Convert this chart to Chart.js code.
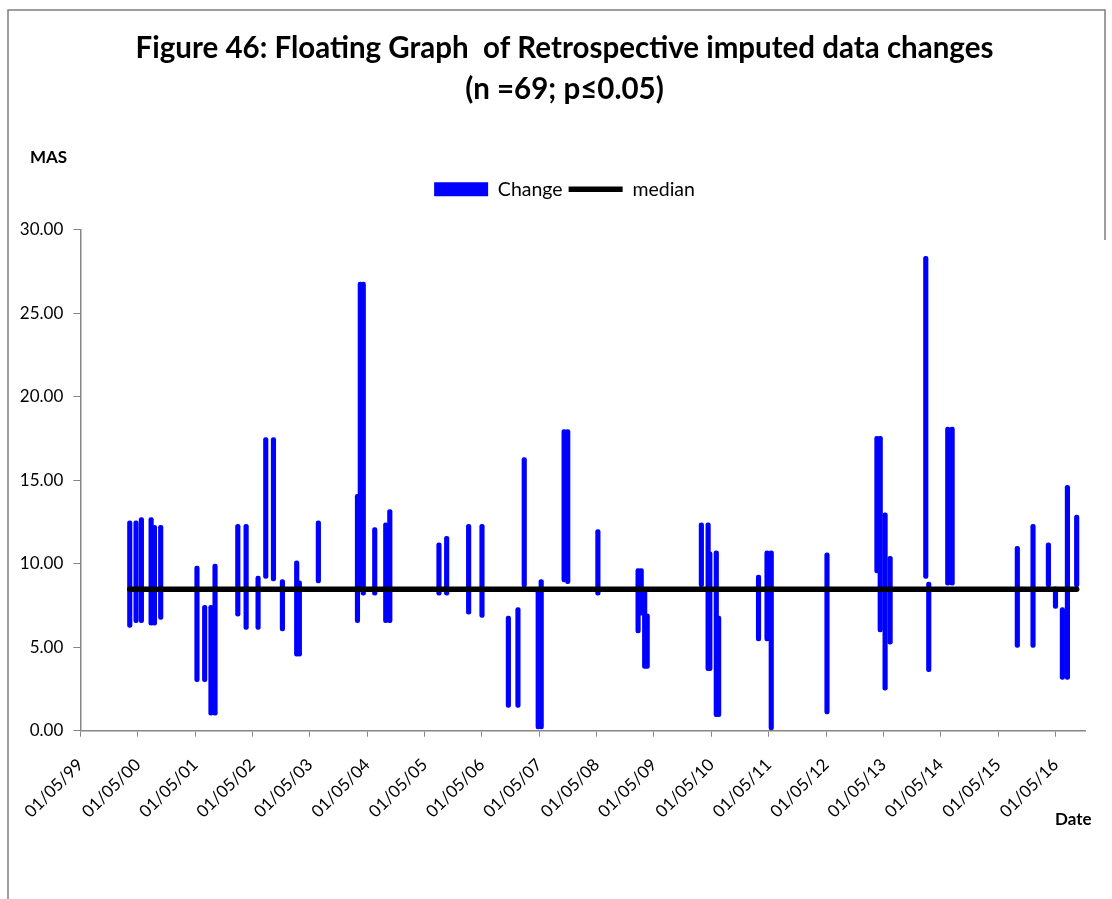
<!DOCTYPE html>
<html><head><meta charset="utf-8">
<script src="https://cdn.jsdelivr.net/npm/chart.js@4.4.1/dist/chart.umd.min.js"></script>
<style>html,body{margin:0;padding:0;background:#fff}#wrap{width:1112px;height:899px;position:relative}canvas{display:block}</style>
</head><body><div id="wrap"><canvas id="c" width="1112" height="899" style="width:1112px;height:899px"></canvas></div>
<script>
// ---- data ----
const changeDates = [
 '2000-03-11','2000-04-20','2000-05-24','2000-07-25','2000-08-15','2000-09-24',
 '2001-05-13','2001-07-01','2001-08-10','2001-09-05',
 '2002-01-28','2002-03-22','2002-06-06','2002-07-25','2002-09-12','2002-11-08',
 '2003-02-07','2003-02-24','2003-06-25',
 '2004-02-29','2004-03-18','2004-04-06','2004-06-18','2004-08-27','2004-09-22',
 '2005-08-01','2005-09-19',
 '2006-02-06','2006-05-02','2006-10-17','2006-12-17',
 '2007-01-26','2007-04-25','2007-05-14','2007-10-07','2007-10-30',
 '2008-05-09',
 '2009-01-20','2009-02-09','2009-03-03','2009-03-19',
 '2010-02-27','2010-04-11','2010-04-22','2010-06-02','2010-06-17',
 '2011-02-26','2011-04-21','2011-05-18',
 '2012-05-07',
 '2013-03-21','2013-04-11','2013-05-12','2013-06-13',
 '2014-01-26','2014-02-14','2014-06-15','2014-07-13',
 '2015-09-01','2015-12-10',
 '2016-03-17','2016-05-01','2016-06-14','2016-07-16','2016-09-13'
];
const changeLow = [
 6.18,6.46,6.46,6.32,6.32,6.66,
 2.93,2.93,0.93,0.93,
 6.86,6.06,6.06,9.11,8.97,5.98,
 4.46,4.46,8.85,
 6.46,8.50,8.11,8.11,6.46,6.46,
 8.11,8.11,
 6.98,6.78,1.40,1.40,
 8.61,0.10,0.10,8.90,8.80,
 8.11,
 5.86,6.92,3.73,3.73,
 8.61,3.60,3.60,0.84,0.84,
 5.38,5.38,0.05,
 1.00,
 9.45,5.92,2.43,5.18,
 9.11,3.53,8.71,8.71,
 4.98,4.98,
 8.61,7.32,3.07,3.07,8.61
];
const changeHigh = [
 12.56,12.56,12.76,12.76,12.30,12.30,
 9.85,7.51,7.51,9.97,
 12.36,12.36,9.25,17.54,17.54,9.05,
 10.17,8.97,12.56,
 14.15,26.85,26.85,12.16,12.44,13.24,
 11.24,11.64,
 12.36,12.36,6.86,7.37,
 16.35,8.40,9.05,18.02,18.02,
 12.04,
 9.71,9.71,8.41,7.00,
 12.44,12.44,10.70,10.76,6.86,
 9.31,10.76,10.76,
 10.64,
 17.62,17.62,13.04,10.44,
 28.39,8.90,18.18,18.18,
 11.04,12.36,
 11.24,8.61,7.37,14.69,12.90
];
const medianValue = 8.46;
const xTickDates = ['1999-05-01','2000-05-01','2001-05-01','2002-05-01','2003-05-01','2004-05-01',
 '2005-05-01','2006-05-01','2007-05-01','2008-05-01','2009-05-01','2010-05-01','2011-05-01',
 '2012-05-01','2013-05-01','2014-05-01','2015-05-01','2016-05-01'];
const xMinDate = '1999-05-01';
const xMaxDate = '2016-11-05';
const yTickValues = [0,5,10,15,20,25,30];
const titleLines = ['Figure 46: Floating Graph  of Retrospective imputed data changes','(n =69; p\u22640.05)'];
const seriesLabels = ['Change','median'];
const yAxisTitle = 'MAS';
const xAxisTitle = 'Date';

// ---- helpers ----
const ts = s => Date.parse(s + 'T00:00:00Z');
const pad2 = n => String(n).padStart(2,'0');
const fmtDate = v => { const d = new Date(v); return pad2(d.getUTCDate()) + '/' + pad2(d.getUTCMonth()+1) + '/' + String(d.getUTCFullYear()).slice(2); };
const barData = changeDates.map((d,i) => ({x: ts(d), y: [changeLow[i], changeHigh[i]]}));
const medianData = [{x: ts(changeDates[0]), y: medianValue}, {x: ts(changeDates[changeDates.length-1]), y: medianValue}];
const AXIS = '#868686';
const FONT = 'Lato, "Open Sans", sans-serif';

const framePlugin = {
  id: 'frame',
  beforeDraw(chart) {
    const c = chart.ctx;
    c.save();
    c.fillStyle = '#fff';
    c.fillRect(0, 0, chart.width, chart.height);
    c.strokeStyle = '#7f7f7f';
    c.lineWidth = 1.5;
    c.beginPath();
    c.moveTo(8, chart.height);
    c.lineTo(8, 10);
    c.lineTo(1105, 10);
    c.lineTo(1105, 240);
    c.stroke();
    c.restore();
  },
  afterDraw(chart) {
    const c = chart.ctx;
    c.save();
    c.fillStyle = '#000';
    c.font = 'bold 17px ' + FONT;
    c.textBaseline = 'middle';
    c.textAlign = 'left';
    c.fillText(yAxisTitle, 30, 158);
    c.fillText(xAxisTitle, 1055, 820);
    c.restore();
  }
};

new Chart(document.getElementById('c'), {
  type: 'bar',
  data: {
    datasets: [
      {type: 'bar', label: seriesLabels[0], data: barData, backgroundColor: '#0000FF', borderWidth: 0,
       barThickness: 4.5, borderRadius: 2.25, borderSkipped: false, pointStyle: 'rect', order: 2},
      {type: 'line', label: seriesLabels[1], data: medianData, borderColor: '#000', backgroundColor: '#000',
       borderWidth: 5.5, borderCapStyle: 'round', pointRadius: 0, pointStyle: 'line', order: 1}
    ]
  },
  options: {
    responsive: false, animation: false, devicePixelRatio: 1,
    layout: {padding: {left: 17, right: 0, top: 0, bottom: 0}},
    plugins: {
      title: {display: true, text: titleLines, color: '#000',
              font: {family: FONT, size: 29.5, weight: 'bold', lineHeight: 1.38}, padding: {top: 28, bottom: 64.1}},
      legend: {display: true, labels: {usePointStyle: true, pointStyleWidth: 54, boxHeight: 14, padding: 6,
               color: '#000', font: {family: FONT, size: 19.5},
               sort: (a, b) => a.datasetIndex - b.datasetIndex}},
      tooltip: {enabled: false}
    },
    scales: {
      x: {type: 'linear', offset: false, min: ts(xMinDate), max: ts(xMaxDate),
          grid: {display: true, offset: false, drawOnChartArea: false, drawTicks: true, tickLength: 6, color: AXIS},
          border: {display: true, color: AXIS, width: 1.5},
          ticks: {autoSkip: false, minRotation: 45, maxRotation: 45, padding: 18, color: '#000',
                  font: {family: FONT, size: 17}, callback: v => fmtDate(v)},
          afterBuildTicks: s => { s.ticks = xTickDates.map(d => ({value: ts(d)})); },
          afterFit: s => { s.height = 168.3; }},
      x2: {type: 'linear', position: 'top', display: true, grid: {display: false, drawTicks: false},
           border: {display: false}, ticks: {display: false}, afterFit: s => { s.height = 20.5; }},
      y: {min: 0, max: 30,
          grid: {display: true, drawOnChartArea: false, drawTicks: true, tickLength: 7, color: AXIS},
          border: {display: true, color: AXIS, width: 1.5},
          ticks: {padding: 10, color: '#000', font: {family: FONT, size: 17}, callback: v => Number(v).toFixed(2)},
          afterBuildTicks: s => { s.ticks = yTickValues.map(v => ({value: v})); },
          afterFit: s => { s.width = 63.3; }},
      y2: {type: 'linear', position: 'right', display: true, grid: {display: false, drawTicks: false},
           border: {display: false}, ticks: {display: false}, afterFit: s => { s.width = 27; }}
    }
  },
  plugins: [framePlugin]
});
</script>
</body></html>
